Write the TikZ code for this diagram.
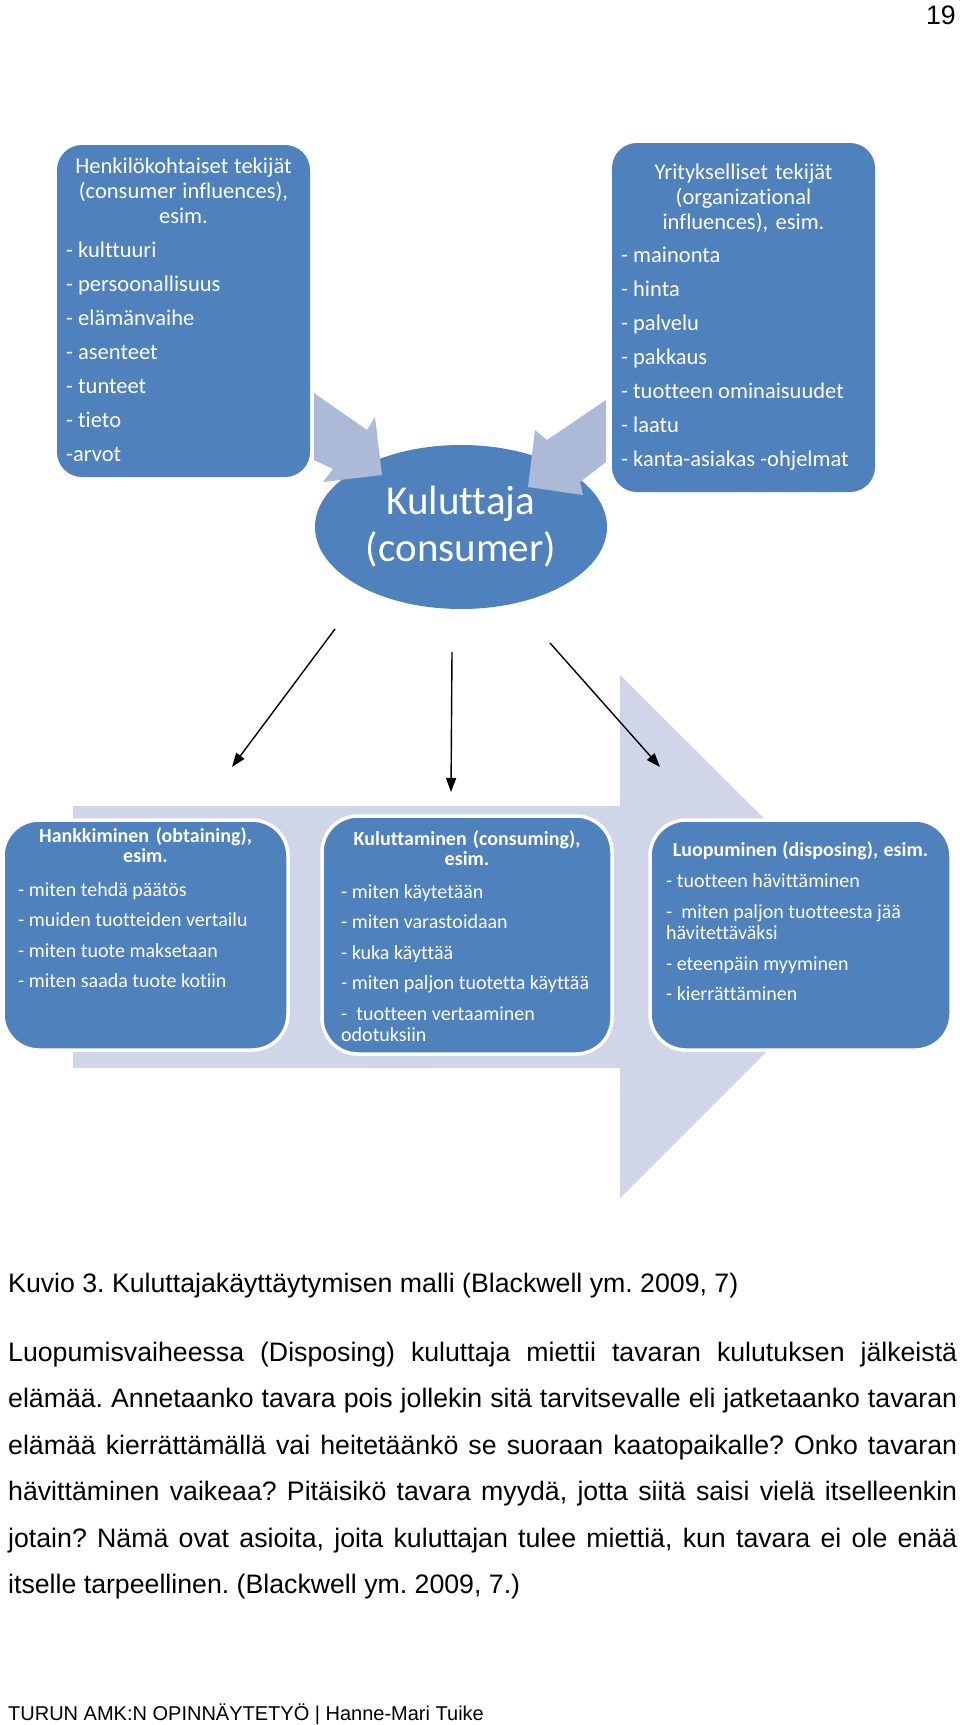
\documentclass[tikz,border=0pt]{standalone}
\usepackage{fontspec}
\setmainfont{Liberation Sans}
\newfontfamily\calibrifont{Carlito}[Ligatures=NoCommon]
\usetikzlibrary{positioning,shapes.geometric,arrows.meta}
\definecolor{boxblue}{RGB}{79,129,189}
\definecolor{arrowblue}{RGB}{172,186,216}
\definecolor{bandblue}{RGB}{208,214,232}
\newcommand\tightspaces{\spaceskip=0pt\xspaceskip=0pt\relax}
\frenchspacing
\hyphenpenalty=10000

\begin{document}
\begin{tikzpicture}[x=1pt, y=-1pt,
                    infbox/.style={rectangle, rounded corners=25pt, fill=boxblue, outer sep=0pt, inner sep=0pt},
                    stagebox/.style={rectangle, rounded corners=36pt, fill=boxblue, draw=white, line width=3.5pt, outer sep=0pt, inner sep=0pt},
                    boxhead/.style={text=white, inner sep=0pt, text width=245pt, align=center, execute at begin node=\tightspaces, font=\calibrifont\fontsize{22.5}{25}\selectfont},
                    boxlist/.style={text=white, inner sep=0pt, text width=245pt, align=left, execute at begin node=\tightspaces, font=\calibrifont\fontsize{22.5}{25}\selectfont},
                    stagehead/.style={text=white, inner sep=0pt, text width=285pt, align=center, execute at begin node=\tightspaces, font=\calibrifont\bfseries\fontsize{20}{19.5}\selectfont},
                    stagelist/.style={text=white, inner sep=0pt, text width=265pt, align=left, execute at begin node=\tightspaces, font=\calibrifont\fontsize{20}{21}\selectfont},
                    pagetext/.style={inner sep=0pt, font=\fontsize{26.7}{46.5}\selectfont},
                    flowarrow/.style={line width=1.4pt, -{Triangle[length=14pt, width=10pt]}}]
                    \fill[white] (0,0) rectangle (960,1725);
                    \useasboundingbox (0,0) rectangle (960,1725);

                    \fill[bandblue] (73,806) -- (620,806) -- (620,675) -- (882,936) -- (620,1198) -- (620,1068) -- (73,1068) -- cycle;

                    \node[infbox, minimum width=253pt, minimum height=332pt] (0-0) at (183.5,311) {};
                    \node[boxhead] (0-0h) [below=28pt of 0-0.north, anchor=base] {Henkilökohtaiset tekijät\\(consumer influences),\\esim.};
                    \node[boxlist] (0-0l) [below right=112.7pt and 9pt of 0-0.north west, anchor=base west] {- kulttuuri\\[9pt]- persoonallisuus\\[9pt]- elämänvaihe\\[9pt]- asenteet\\[9pt]- tunteet\\[9pt]- tieto\\[9pt]-arvot};

                    \node[infbox, minimum width=263pt, minimum height=349pt] (0-1) at (743.5,317.5) {};
                    \node[boxhead] (0-1h) [below=36.5pt of 0-1.north, anchor=base] {Yritykselliset tekijät\\(organizational\\influences), esim.};
                    \node[boxlist] (0-1l) [below right=119.8pt and 9pt of 0-1.north west, anchor=base west] {- mainonta\\[9pt]- hinta\\[9pt]- palvelu\\[9pt]- pakkaus\\[9pt]- tuotteen ominaisuudet\\[9pt]- laatu\\[9pt]- kanta-asiakas -ohjelmat};

                    \node[ellipse, fill=boxblue, minimum width=292pt, minimum height=164pt, inner sep=0pt, text=white, align=center, font=\calibrifont\fontsize{41}{47}\selectfont] (cons) at (461,527) {Kuluttaja\\(consumer)};

                    \fill[arrowblue] (314,393) -- (367,430) -- (375,417) -- (382,475) -- (323,482) -- (333,469) -- (314,460) -- cycle;
                    \fill[arrowblue] (606,400) -- (547,440) -- (535,430) -- (528,487) -- (583,495) -- (580,482) -- (606,462) -- cycle;

                    \coordinate (o-0) at (335,629);
                    \coordinate (o-1) at (452,652);
                    \coordinate (o-2) at (550,643);
                    \coordinate (i-0) at (232,767);
                    \coordinate (i-1) at (451,792);
                    \coordinate (i-2) at (660,767);
                    \draw[flowarrow] (o-0) -- (i-0);
                    \draw[flowarrow] (o-1) -- (i-1);
                    \draw[flowarrow] (o-2) -- (i-2);

                    \node[stagebox, minimum width=285pt, minimum height=230pt] (st-0) at (145.5,935) {};
                    \node[stagebox, minimum width=290pt, minimum height=238pt] (st-1) [right=34pt of st-0] {};
                    \node[stagebox, minimum width=301pt, minimum height=230pt] (st-2) [right=38pt of st-1] {};

                    \node[stagehead] (st-0h) [below=22.5pt of st-0.north, anchor=base] {Hankkiminen (obtaining),\\esim.};
                    \node[stagelist] (st-0l) [below right=76pt and 15pt of st-0.north west, anchor=base west] {- miten tehdä päätös\\[9.5pt]- muiden tuotteiden vertailu\\[9.5pt]- miten tuote maksetaan\\[9.5pt]- miten saada tuote kotiin};
                    \node[stagehead] (st-1h) [below=29.5pt of st-1.north, anchor=base] {Kuluttaminen (consuming),\\esim.};
                    \node[stagelist] (st-1l) [below right=82pt and 19pt of st-1.north west, anchor=base west] {- miten käytetään\\[9.5pt]- miten varastoidaan\\[9.5pt]- kuka käyttää\\[9.5pt]- miten paljon tuotetta käyttää\\[9.5pt]- \ tuotteen vertaaminen\\odotuksiin};
                    \node[stagehead] (st-2h) [below=36.5pt of st-2.north, anchor=base] {Luopuminen (disposing), esim.};
                    \node[stagelist] (st-2l) [below right=67pt and 16pt of st-2.north west, anchor=base west] {- tuotteen hävittäminen\\[10pt]- \ miten paljon tuotteesta jää\\hävitettäväksi\\[10pt]- eteenpäin myyminen\\[9.5pt]- kierrättäminen};

                    \node[pagetext, anchor=base east] (pageno) at (956,24) {19};
                    \node[pagetext, anchor=base west] (caption) at (8,1292) {Kuvio 3. Kuluttajakäyttäytymisen malli (Blackwell ym. 2009, 7)};
                    \node[pagetext, anchor=base west, text width=949pt, align=justify] (body) at (8,1361) {Luopumisvaiheessa (Disposing) kuluttaja miettii tavaran kulutuksen jälkeistä\linebreak
                    elämää. Annetaanko tavara pois jollekin sitä tarvitsevalle eli jatketaanko tavaran\linebreak
                    elämää kierrättämällä vai heitetäänkö se suoraan kaatopaikalle? Onko tavaran\linebreak
                    hävittäminen vaikeaa? Pitäisikö tavara myydä, jotta siitä saisi vielä itselleenkin\linebreak
                    jotain? Nämä ovat asioita, joita kuluttajan tulee miettiä, kun tavara ei ole enää\linebreak
                    itselle tarpeellinen. (Blackwell ym. 2009, 7.)};
                    \node[inner sep=0pt, anchor=base west, font=\fontsize{20}{24}\selectfont] (footer) at (8,1720) {TURUN AMK:N OPINNÄYTETYÖ | Hanne-Mari Tuike};
                    \end{tikzpicture}
\end{document}
